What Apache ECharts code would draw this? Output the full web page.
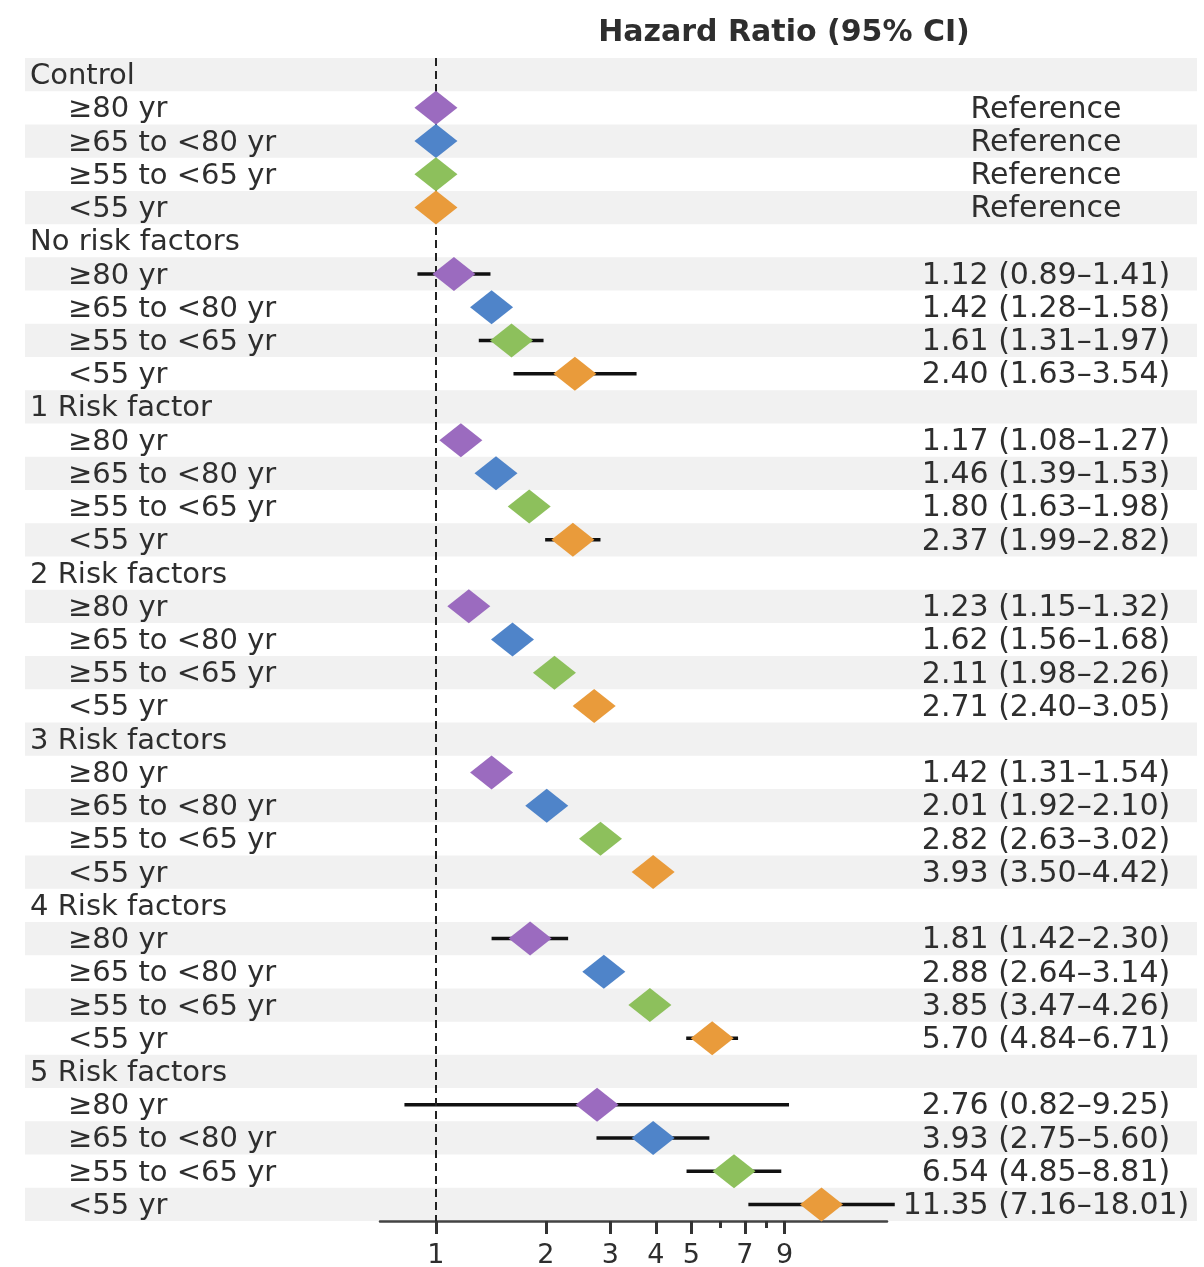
<!DOCTYPE html>
<html>
<head>
<meta charset="utf-8">
<script src="https://cdn.jsdelivr.net/npm/echarts@6/dist/echarts.min.js"></script>
<style>
html,body{margin:0;padding:0;background:#fff;}
#chart{width:1204px;height:1267px;}
</style>
</head>
<body>
<div id="chart"></div>
<script>
// ---- data ----
const titleText = 'Hazard Ratio (95% CI)';
const groupNames = ['Control', 'No risk factors', '1 Risk factor', '2 Risk factors', '3 Risk factors', '4 Risk factors', '5 Risk factors'];
const ageNames = ['≥80 yr', '≥65 to <80 yr', '≥55 to <65 yr', '<55 yr'];
const ageColors = ['#9b6bbf', '#4f84c9', '#8dc05c', '#e99b3b'];
const hrValues = [
  [1, 1, 1, 1],
  [1.12, 1.42, 1.61, 2.40],
  [1.17, 1.46, 1.80, 2.37],
  [1.23, 1.62, 2.11, 2.71],
  [1.42, 2.01, 2.82, 3.93],
  [1.81, 2.88, 3.85, 5.70],
  [2.76, 3.93, 6.54, 11.35]
];
const ciLow = [
  [null, null, null, null],
  [0.89, 1.28, 1.31, 1.63],
  [1.08, 1.39, 1.63, 1.99],
  [1.15, 1.56, 1.98, 2.40],
  [1.31, 1.92, 2.63, 3.50],
  [1.42, 2.64, 3.47, 4.84],
  [0.82, 2.75, 4.85, 7.16]
];
const ciHigh = [
  [null, null, null, null],
  [1.41, 1.58, 1.97, 3.54],
  [1.27, 1.53, 1.98, 2.82],
  [1.32, 1.68, 2.26, 3.05],
  [1.54, 2.10, 3.02, 4.42],
  [2.30, 3.14, 4.26, 6.71],
  [9.25, 5.60, 8.81, 18.01]
];
const referenceText = 'Reference';
const tickLabels = [1, 2, 3, 4, 5, 7, 9];
const minorTickValues = [6, 8];

// ---- build rows ----
const rowLabels = [];
const rowRight = [];
const rowIsHeader = [];
const points = [];
const ciSegs = [];
groupNames.forEach((g, gi) => {
  rowLabels.push(g); rowRight.push(''); rowIsHeader.push(true);
  ageNames.forEach((a, ai) => {
    const idx = rowLabels.length;
    rowLabels.push(a);
    rowIsHeader.push(false);
    const hr = hrValues[gi][ai];
    const lo = ciLow[gi][ai], hi = ciHigh[gi][ai];
    if (lo == null) {
      rowRight.push(referenceText);
    } else {
      rowRight.push(hr.toFixed(2) + ' (' + lo.toFixed(2) + '–' + hi.toFixed(2) + ')');
      ciSegs.push([lo, hi, idx]);
    }
    points.push({ value: [hr, idx], itemStyle: { color: ageColors[ai], opacity: 1 } });
  });
});
const bandRows = rowLabels.map((_, i) => i).filter(i => i % 2 === 0);

const FONT = 'DejaVu Sans';
const TXT = '#2e2e2e';

const chart = echarts.init(document.getElementById('chart'), null, { renderer: 'canvas' });
chart.setOption({
  backgroundColor: '#fff',
  animation: false,
  title: {
    text: titleText,
    left: 779, top: 13, textAlign: 'center',
    textStyle: { fontFamily: FONT, fontSize: 30, fontWeight: 'bold', color: TXT }
  },
  grid: { left: 380, right: 317, top: 58, bottom: 46, containLabel: false, outerBoundsMode: 'none' },
  xAxis: [
    {
      type: 'log', logBase: 10, min: 0.703, max: 17.15,
      axisLine: { show: true, lineStyle: { color: '#444', width: 2.5 } },
      axisTick: { show: true, customValues: tickLabels, length: 13, lineStyle: { color: '#333', width: 3 } },
      axisLabel: { show: true, customValues: tickLabels, margin: 21, fontFamily: FONT, fontSize: 27, color: TXT },
      splitLine: { show: false }, minorTick: { show: false }
    },
    {
      type: 'log', logBase: 10, min: 0.703, max: 17.15, position: 'bottom',
      axisLine: { show: false },
      axisTick: { show: true, customValues: minorTickValues, length: 7, lineStyle: { color: '#333', width: 3 } },
      axisLabel: { show: false },
      splitLine: { show: false }
    }
  ],
  yAxis: [
    {
      type: 'category', data: rowLabels, inverse: true,
      axisLine: { show: false }, axisTick: { show: false }, splitLine: { show: false },
      axisLabel: {
        interval: 0,
        align: 'left', margin: 350, color: TXT, fontFamily: FONT, fontSize: 29,
        formatter: (v, i) => rowIsHeader[i] ? '{h|' + v + '}' : '{s|' + v + '}',
        rich: {
          h: { fontFamily: FONT, fontSize: 29, color: TXT, padding: [4, 0, 0, 0] },
          s: { fontFamily: FONT, fontSize: 29, color: TXT, padding: [4, 0, 0, 38] }
        }
      }
    },
    {
      type: 'category', data: rowLabels, inverse: true, position: 'right',
      axisLine: { show: false }, axisTick: { show: false }, splitLine: { show: false },
      axisLabel: {
        interval: 0,
        align: 'center', margin: 159, color: TXT, fontFamily: FONT, fontSize: 30,
        formatter: (v, i) => '{r|' + rowRight[i] + '}',
        rich: {
          r: { fontFamily: FONT, fontSize: 30, color: TXT, padding: [4, 0, 0, 0] }
        }
      }
    }
  ],
  series: [
    {
      type: 'custom', name: 'bands', xAxisIndex: 0, yAxisIndex: 0, z: 0, silent: true,
      data: bandRows.map(i => [1, i]),
      encode: { x: 0, y: 1 },
      renderItem: (params, api) => {
        const c = api.coord([1, api.value(1)]);
        const h = api.size([1, 1])[1];
        return { type: 'rect', shape: { x: 25, y: c[1] - h / 2, width: 1172, height: h }, style: { fill: '#f1f1f1' } };
      }
    },
    {
      type: 'custom', name: 'ci', xAxisIndex: 0, yAxisIndex: 0, z: 3, silent: true,
      data: ciSegs,
      encode: { x: [0, 1], y: 2 },
      renderItem: (params, api) => {
        const p1 = api.coord([api.value(0), api.value(2)]);
        const p2 = api.coord([api.value(1), api.value(2)]);
        return { type: 'line', shape: { x1: p1[0], y1: p1[1], x2: p2[0], y2: p2[1] }, style: { stroke: '#111', lineWidth: 3.5 } };
      }
    },
    {
      type: 'scatter', name: 'hr', xAxisIndex: 0, yAxisIndex: 0, z: 5,
      symbol: 'diamond', symbolSize: [43, 34],
      itemStyle: { opacity: 1 },
      data: points,
      markLine: {
        silent: true, symbol: 'none', label: { show: false },
        lineStyle: { color: '#222', width: 2, type: [8, 5] },
        data: [{ xAxis: 1 }]
      }
    }
  ]
});
</script>
</body>
</html>
